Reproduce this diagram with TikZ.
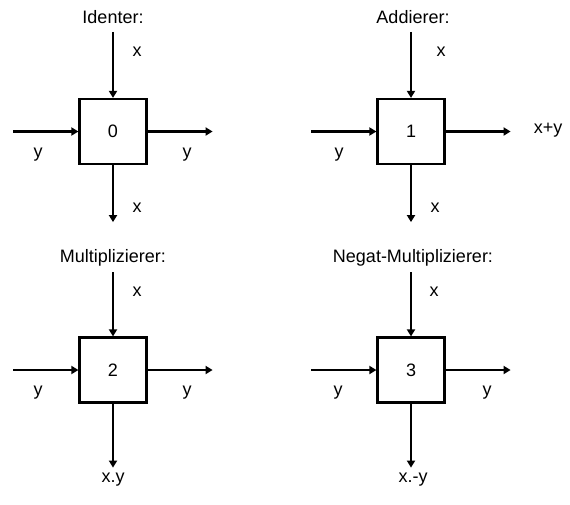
\documentclass[tikz,border=0pt]{standalone}
\usepackage{fontspec}
\setmainfont{Liberation Sans}
\usetikzlibrary{arrows.meta}
\begin{document}
\begin{tikzpicture}[x=1pt,y=-1pt,
  every node/.style={font=\fontsize{18}{21}\selectfont, inner sep=0pt},
  blk/.style={draw, line width=2.2pt, minimum width=67pt, minimum height=65pt},
  sig/.style={line width=2.2pt, -{Triangle[length=7pt,width=8pt]}}]
\useasboundingbox (0,0) rectangle (570,504);
% boxes
\node[blk] (b0) at (113,131.5) {0};
\node[blk] (b1) at (411,131.5) {1};
\node[blk] (b2) at (113,370) {2};
\node[blk] (b3) at (411,370) {3};
% free ends
\foreach \b in {b0,b1}{
  \coordinate (\b t) at ([yshift=66pt]\b.north);
  \coordinate (\b l) at ([xshift=-65pt]\b.west);
  \coordinate (\b r) at ([xshift=65pt]\b.east);
  \coordinate (\b d) at ([yshift=-57pt]\b.south);
}
\foreach \b in {b2,b3}{
  \coordinate (\b t) at ([yshift=64pt]\b.north);
  \coordinate (\b l) at ([xshift=-65pt]\b.west);
  \coordinate (\b r) at ([xshift=65pt]\b.east);
  \coordinate (\b d) at ([yshift=-64pt]\b.south);
}
\foreach \b in {b0,b1,b2,b3}{
  \draw[sig] (\b t) -- (\b.north);
  \draw[sig] (\b l) -- (\b.west);
  \draw[sig] (\b.east) -- (\b r);
  \draw[sig] (\b.south) -- (\b d);
}
% titles
\node (t0) at (113,17) {Identer:};
\node (t1) at (413,17) {Addierer:};
\node (t2) at (113,258) {Multiplizierer:};
\node (t3) at (413,258) {Negat-Multiplizierer:};
% labels box 0
\node (x0t) at (137,52) {x};
\node (y0l) at (38,155) {y};
\node (y0r) at (187,155) {y};
\node (x0b) at (137,208) {x};
% labels box 1
\node (x1t) at (441,52) {x};
\node (y1l) at (339,155) {y};
\node (s1r) at (548,130) {x+y};
\node (x1b) at (435,208) {x};
% labels box 2
\node (x2t) at (137,292) {x};
\node (y2l) at (38,393) {y};
\node (y2r) at (187,393) {y};
\node (p2b) at (113,480) {x.y};
% labels box 3
\node (x3t) at (434,292) {x};
\node (y3l) at (338,393) {y};
\node (y3r) at (487,393) {y};
\node (p3b) at (413,480) {x.-y};
\end{tikzpicture}
\end{document}
